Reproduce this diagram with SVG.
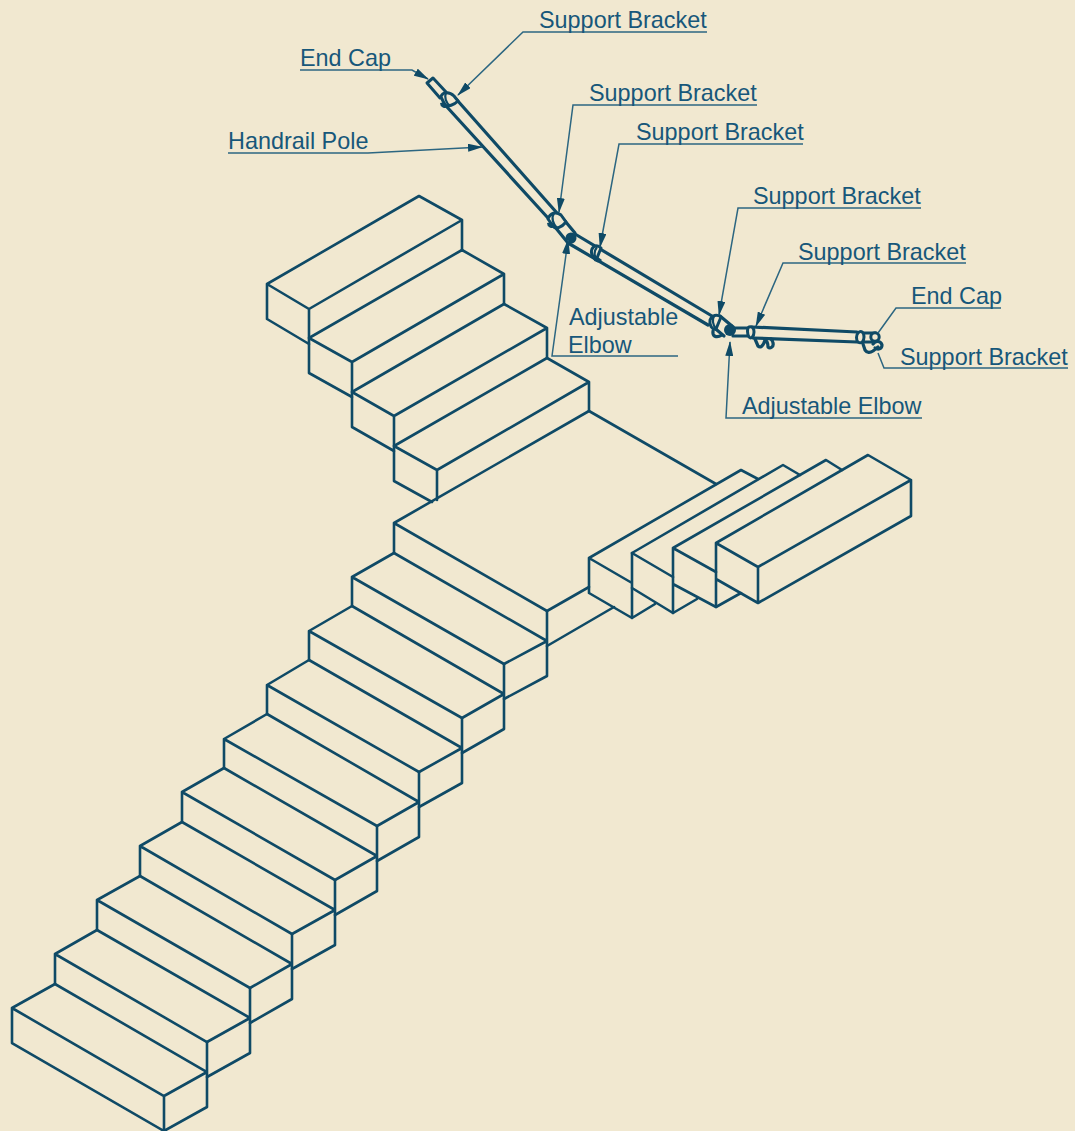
<svg xmlns="http://www.w3.org/2000/svg" width="1075" height="1131" viewBox="0 0 1075 1131">
<style>
.s{fill:none;stroke:#0f4a66;stroke-width:2.6;stroke-linejoin:round;stroke-linecap:round}
.p{fill:#f1e8d0;stroke:#0f4a66;stroke-width:3;stroke-linejoin:round}
.b{fill:none;stroke:#0f4a66;stroke-width:2.2}
.h{fill:none;stroke:#0f4a66;stroke-width:3.2;stroke-linecap:round;stroke-linejoin:round}
.d{fill:#0f4a66}
.l{fill:none;stroke:#2c6681;stroke-width:1.5}
.t{font-family:"Liberation Sans",Arial,sans-serif;font-size:23.4px;fill:#17577a}
</style>
<defs>
<marker id="a" markerUnits="userSpaceOnUse" markerWidth="16" markerHeight="8" refX="14" refY="4" orient="auto"><path d="M0 0L15 4L0 8Z" fill="#0f4a66"/></marker>
</defs>
<rect width="1075" height="1131" fill="#f1e8d0"/>
<g id="lower-flight" class="s">
<path d="M12 1008L164 1096L207 1072L55 984ZM12 1008V1043L164 1131V1096M164 1131L207 1107V1042"/>
<path d="M55 954L207 1042L250 1018L97 930ZM55 954V984M207 1077L250 1053V988"/>
<path d="M97 900L250 988L292 964L140 876ZM97 900V930M250 1023L292 999V934"/>
<path d="M140 846L292 934L335 910L182 822ZM140 846V876M292 969L335 945V880"/>
<path d="M182 792L335 880L377 856L224 768ZM182 792V822M335 915L377 891V826"/>
<path d="M224 739L377 826L419 802L267 714ZM224 739V768M377 861L419 837V772"/>
<path d="M267 685L419 772L462 748L309 660ZM267 685V714M419 807L462 783V718"/>
<path d="M309 631L462 718L504 694L352 606ZM309 631V660M462 753L504 729V664"/>
<path d="M352 577L504 664L547 641L394 553ZM352 577V606M504 699L547 676V611"/>
</g>
<g id="landing" class="s">
<path d="M394 523V553M394 523L547 611L589 587M394 523L589 411L716 484M547 646L614 607"/>
</g>
<g id="upper-flight" class="s">
<path d="M267 284L309 309L462 220L419 196ZM267 284V319L309 344V309M462 220V250"/>
<path d="M309 338L352 362L504 274L462 250ZM309 344V373L352 397V362M504 274V304"/>
<path d="M352 392L394 416L547 328L504 304ZM352 397V427L394 451V416M547 328V358"/>
<path d="M394 446L437 470L589 382L547 358ZM394 451V481L432 502M437 470V500M589 382V411"/>
</g>
<g id="right-flight" class="s">
<path d="M589 558L741 470L758 479M589 558V593L632 618V553M589 558L632 583M632 618L655 604"/>
<path d="M632 553L783 465L800 475M632 553L673 577M632 588L673 613L697 599"/>
<path d="M673 548L826 460L842 470M673 548V613M673 548L716 572M673 584L716 607L741 593"/>
<path d="M716 543L868 455L911 480L758 567ZM716 543V607M716 579L758 603V567M758 603L911 516V480"/>
</g>
<g id="handrail">
<path class="p" d="M427 83L433 78L446 92L440 98Z"/>
<path class="h" d="M457 100L557 213M447 107L548 218"/>
<path class="h" d="M560 215L575 233M555 227L568 243"/>
<path class="h" d="M575 234L712 316M568 243L708 325"/>
<path class="h" d="M720 316L732 326M711 325L724 336"/>
<path class="h" d="M733 328H751M733 336H751"/>
<path class="h" d="M752 327L857 332M753 338L857 342"/>
<g id="bracket-1"><path class="p" d="M441 97C442 92 449 91 454 96L458 101C454 105 448 107 445 105Z"/><path class="b" d="M446 93C444 97 446 103 450 106"/><path class="d" d="M440 103a5 5 0 0 0 8 4l-3-5z"/></g>
<g id="bracket-2"><path class="p" d="M548 219C550 213 556 211 561 215L566 222C562 227 556 230 553 226Z"/><path class="b" d="M554 213C551 218 553 224 557 228"/><path class="d" d="M547 223a5 5 0 0 0 8 4l-3-5z"/></g>
<g id="elbow-1"><circle class="d" cx="571" cy="238" r="5.5"/></g>
<g id="bracket-3"><path class="p" d="M592 249C594 245 598 245 601 248L597 258C594 259 590 254 592 249Z"/><path class="b" d="M597 247C594 251 594 255 596 259"/><path class="d" d="M593 259a5 5 0 0 0 9 1l-4-3z"/></g>
<g id="bracket-4"><path class="p" d="M710 320C712 315 717 314 721 317L716 329C712 330 709 325 710 320Z"/><path class="b" d="M714 316C712 320 713 325 716 329"/><path class="h" d="M713 331C712 337 717 338 722 335"/></g>
<g id="elbow-2"><circle class="d" cx="730" cy="330" r="6"/></g>
<g id="bracket-5"><path class="p" d="M749 327C752 326 754 328 754 332C754 337 751 339 749 337C747 334 747 328 749 327Z"/><path class="h" d="M755 339L758 346C760 348 763 347 765 340C767 341 768 344 768 347C770 349 774 347 773 343C773 341 772 340 771 339"/></g>
<g id="bracket-6"><path class="p" d="M858 333C861 330 864 332 864 337C864 342 861 344 858 342C856 340 856 335 858 333Z"/><path class="h" d="M864 333L876 333M864 342H872"/><circle class="p" cx="875" cy="337" r="4.2"/><path class="h" d="M863 344L865 350C867 353 870 353 873 351L878 347M873 344C876 340 881 341 882 345C882 349 878 350 875 348"/></g>
</g>
<g id="connectors">
<path class="l" d="M707 32H523L458 95" marker-end="url(#a)"/>
<path class="l" d="M300 70H412L428 79" marker-end="url(#a)"/>
<path class="l" d="M228 153H368L482 147" marker-end="url(#a)"/>
<path class="l" d="M757 105H573L559 212" marker-end="url(#a)"/>
<path class="l" d="M803 144H619L600 247" marker-end="url(#a)"/>
<path class="l" d="M678 356H552L568 240" marker-end="url(#a)"/>
<path class="l" d="M921 208H738L719 315" marker-end="url(#a)"/>
<path class="l" d="M966 263H783L756 326" marker-end="url(#a)"/>
<path class="l" d="M1001 308H896L878 333"/>
<path class="l" d="M1068 368H884L878 353"/>
<path class="l" d="M922 418H726L730 342" marker-end="url(#a)"/>
</g>
<g id="labels" class="t">
<text x="539" y="27.5">Support Bracket</text>
<text x="300" y="65.5">End Cap</text>
<text x="228" y="148.5">Handrail Pole</text>
<text x="589" y="100.5">Support Bracket</text>
<text x="636" y="139.5">Support Bracket</text>
<text x="569" y="325">Adjustable</text>
<text x="568" y="353">Elbow</text>
<text x="753" y="203.5">Support Bracket</text>
<text x="798" y="259.5">Support Bracket</text>
<text x="911" y="303.5">End Cap</text>
<text x="900" y="364.5">Support Bracket</text>
<text x="742" y="413.5">Adjustable Elbow</text>
</g>
</svg>
